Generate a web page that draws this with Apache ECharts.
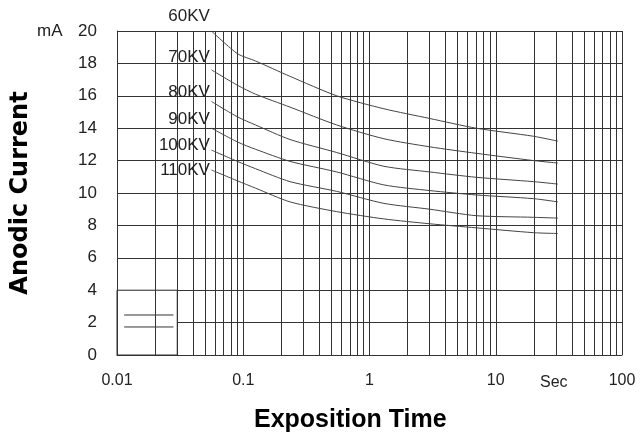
<!DOCTYPE html>
<html>
<head>
<meta charset="utf-8">
<script src="https://cdn.jsdelivr.net/npm/echarts@6/dist/echarts.min.js"></script>
<style>
  html, body { margin: 0; padding: 0; background: #fff; }
  #chart { width: 644px; height: 443px; }
</style>
</head>
<body>
<div id="chart"></div>
<script>
// exposure time (s) where the curves were read
const times = [0.056, 0.09, 0.125, 0.235, 0.55, 1.3, 3, 7, 20, 31];
// anodic current (mA) per tube voltage
const kv60  = [20.0, 18.6, 18.15, 17.2, 16.0, 15.2, 14.6, 14.0, 13.5, 13.2];
const kv70  = [17.6, 16.65, 16.1, 15.3, 14.2, 13.35, 12.85, 12.45, 12.0, 11.85];
const kv80  = [15.65, 14.7, 14.2, 13.3, 12.5, 11.65, 11.3, 10.97, 10.7, 10.55];
const kv90  = [14.0, 13.15, 12.7, 11.95, 11.3, 10.5, 10.15, 9.88, 9.65, 9.45];
const kv100 = [12.65, 11.95, 11.5, 10.7, 10.1, 9.36, 9.0, 8.6, 8.5, 8.45];
const kv110 = [11.42, 10.75, 10.3, 9.45, 8.85, 8.4, 8.1, 7.85, 7.55, 7.5];
const curveNames = ['60KV', '70KV', '80KV', '90KV', '100KV', '110KV'];
const curveValues = [kv60, kv70, kv80, kv90, kv100, kv110];

// tick labels
const xTicks = [0.01, 0.1, 1, 10, 100];
const decades = [0.01, 0.1, 1, 10];

// little legend box in lower left corner
const boxX = [0.01, 0.03];
const boxY = [0, 4];
const boxLineX = [0.0114, 0.028];
const boxLineY = [2.47, 1.73];

const chart = echarts.init(document.getElementById('chart'));

// log grid: 1..9 in every decade
const gridTimes = [];
decades.forEach(d => {
  for (let k = 1; k <= 9; k++) gridTimes.push(k * d);
});
gridTimes.push(100);

const labelShift = [-15, -13, -9, -9, -5, 0]; // nudges for the KV labels

const curveSeries = curveNames.map((name, i) => ({
  name: name,
  type: 'line',
  z: 5,
  smooth: 0.25,
  symbol: 'none',
  silent: true,
  lineStyle: { color: '#444', width: 1 },
  data: times.map((t, j) => [t, curveValues[i][j]]),
  markPoint: {
    silent: true,
    symbol: 'circle',
    symbolSize: 1,
    itemStyle: { color: 'rgba(0,0,0,0)' },
    label: {
      show: true,
      position: 'left',
      distance: 1,
      offset: [0, labelShift[i]],
      formatter: name,
      fontFamily: 'Liberation Sans',
      fontSize: 17,
      color: '#222'
    },
    data: [{ coord: [times[0], curveValues[i][0]] }]
  }
}));

const option = {
  animation: false,
  backgroundColor: '#fff',
  grid: { left: 117, right: 22, top: 31, bottom: 88, outerBoundsMode: 'none', containLabel: false },
  xAxis: {
    type: 'log',
    logBase: 10,
    min: 0.01,
    max: 100,
    axisLine: { show: true, lineStyle: { color: '#333', width: 1 } },
    axisTick: { show: false },
    splitLine: { show: false },
    axisLabel: {
      margin: 18,
      fontFamily: 'Liberation Sans',
      fontSize: 16,
      color: '#222',
      formatter: v => xTicks.indexOf(v) >= 0 ? String(v) : ''
    }
  },
  yAxis: {
    type: 'value',
    min: 0,
    max: 20,
    interval: 2,
    name: 'Anodic Current',
    nameLocation: 'middle',
    nameGap: 84,
    nameTextStyle: { fontFamily: 'DejaVu Sans', fontWeight: 'bold', fontSize: 24, color: '#000' },
    axisLine: { show: true, lineStyle: { color: '#333', width: 1 } },
    axisTick: { show: false },
    splitLine: { show: true, lineStyle: { color: '#333', width: 1 } },
    axisLabel: { margin: 20, fontFamily: 'Liberation Sans', fontSize: 17, color: '#222' }
  },
  graphic: [
    { type: 'text', left: 37, top: 23, style: { text: 'mA', font: '17px "Liberation Sans"', fill: '#222' } },
    { type: 'text', left: 540, top: 375, style: { text: 'Sec', font: '16px "Liberation Sans"', fill: '#222' } },
    { type: 'text', left: 254, top: 408, style: { text: 'Exposition Time', font: 'bold 25px "Liberation Sans"', fill: '#000' } }
  ],
  series: [
    {
      // vertical log grid lines
      type: 'line',
      z: 1,
      data: [],
      silent: true,
      markLine: {
        silent: true,
        symbol: ['none', 'none'],
        label: { show: false },
        lineStyle: { color: '#333', type: 'solid', width: 1 },
        data: gridTimes.map(v => ({ xAxis: v }))
      }
    },
    {
      // blank box
      type: 'line',
      z: 3,
      data: [],
      silent: true,
      markArea: {
        silent: true,
        itemStyle: { color: '#fff', borderColor: '#333', borderWidth: 1 },
        data: [[{ xAxis: boxX[0], yAxis: boxY[0] }, { xAxis: boxX[1], yAxis: boxY[1] }]]
      }
    },
    ...boxLineY.map(y => ({
      type: 'line',
      z: 4,
      symbol: 'none',
      silent: true,
      lineStyle: { color: '#333', width: 1 },
      data: boxLineX.map(x => [x, y])
    })),
    ...curveSeries
  ]
};

chart.setOption(option);
</script>
</body>
</html>
